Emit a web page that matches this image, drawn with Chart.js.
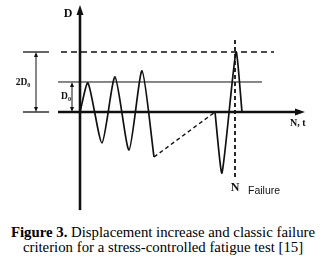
<!DOCTYPE html>
<html><head><meta charset="utf-8">
<script src="https://cdn.jsdelivr.net/npm/chart.js@4/dist/chart.umd.min.js"></script>
<style>
html,body{margin:0;padding:0;background:#fff;width:326px;height:266px;overflow:hidden;}
#wrap{position:relative;width:326px;height:215px;}
#cap{position:absolute;left:0;top:225px;width:326px;text-align:center;font:14.8px "Liberation Serif",serif;line-height:15px;color:#000;}
</style></head><body>
<div id="wrap"><canvas id="c" width="326" height="215"></canvas></div>
<div id="cap"><b>Figure 3.</b> Displacement increase and classic failure<br>criterion for a stress-controlled fatigue test [15]</div>
<script>
// ---- data (x: cycles N / time t, y: displacement in units of D0) ----
const D0 = 1;
const TWO_D0 = 2;
const cyclesX = [0, 0.8, 2.2, 3.5, 4.9, 6.2, 7.4];
const cyclesY = [0, 0.97, -1.03, 1.17, -1.27, 1.37, -1.5];
const skipX = [7.4, 13.5];
const skipY = [-1.5, 0];
const failX = [13.5, 14.2, 15.6, 16.2];
const failY = [0, -2.03, 2.0, 0];
const N_FAILURE = 15.5;
const failLineY = [-2.17, 2.47];
const d0LineX = [-2.2, 18.2];
const twoD0LineX = [-1.9, 19.4];
const xAxisX = [-2.2, 21.7];
const yAxisY = [-3.27, 3.3];
const bracket2X = [-5.7, -3.1];
const bracket2Mid = -4.4;
const bracket1Mid = -0.8;

const X_MIN = -8, X_MAX = 24.6, Y_MIN = -3.4333, Y_MAX = 3.7333;
const INK = '#111';

function seg(xs, ys, extra) {
  return Object.assign({
    data: xs.map((x, i) => ({x: x, y: ys[i]})),
    showLine: true, pointRadius: 0, borderColor: INK, borderWidth: 1.6,
    fill: false, tension: 0
  }, extra || {});
}

const datasets = [
  seg(d0LineX, [D0, D0], {borderWidth: 1}),
  seg(twoD0LineX, [TWO_D0, TWO_D0], {borderWidth: 1.5, borderDash: [6, 4]}),
  seg(bracket2X, [TWO_D0, TWO_D0], {borderWidth: 1.3}),
  seg(bracket2X, [0, 0], {borderWidth: 1.3}),
  seg([bracket2Mid, bracket2Mid], [0.12, TWO_D0 - 0.12], {borderWidth: 1}),
  seg([bracket1Mid, bracket1Mid], [0.12, D0 - 0.12], {borderWidth: 1}),
  seg([N_FAILURE, N_FAILURE], failLineY, {borderWidth: 1.8, borderDash: [4, 3]}),
  seg(xAxisX, [0, 0], {borderWidth: 2.6}),
  seg([0, 0], yAxisY, {borderWidth: 2.6}),
  seg(cyclesX, cyclesY, {borderWidth: 1.7, tension: 0.22}),
  seg(skipX, skipY, {borderWidth: 1.4, borderDash: [4, 3]}),
  seg(failX, failY, {borderWidth: 1.7, tension: 0.18})
];

function arrow(ctx, x, y, ang, len, wid) {
  ctx.save();
  ctx.translate(x, y); ctx.rotate(ang);
  ctx.beginPath();
  ctx.moveTo(0, 0); ctx.lineTo(-len, -wid / 2); ctx.lineTo(-len, wid / 2);
  ctx.closePath(); ctx.fillStyle = INK; ctx.fill();
  ctx.restore();
}

function subText(ctx, main, sub, x, y, size, align) {
  ctx.font = 'bold ' + size + 'px "Liberation Serif", serif';
  const w1 = ctx.measureText(main).width;
  ctx.font = 'bold ' + (size * 0.65) + 'px "Liberation Serif", serif';
  const w2 = ctx.measureText(sub).width;
  let x0 = align === 'center' ? x - (w1 + w2) / 2 : x;
  ctx.textBaseline = 'middle'; ctx.textAlign = 'left';
  ctx.font = 'bold ' + size + 'px "Liberation Serif", serif';
  ctx.fillText(main, x0, y);
  ctx.font = 'bold ' + (size * 0.65) + 'px "Liberation Serif", serif';
  ctx.fillText(sub, x0 + w1, y + size * 0.25);
}

const decor = {
  id: 'decor',
  afterDatasetsDraw(chart) {
    const ctx = chart.ctx, sx = chart.scales.x, sy = chart.scales.y;
    const px = v => sx.getPixelForValue(v), py = v => sy.getPixelForValue(v);
    ctx.save();
    ctx.fillStyle = INK;
    // axis arrows
    arrow(ctx, px(0), py(yAxisY[1]) - 8, -Math.PI / 2, 10, 7);
    arrow(ctx, px(xAxisX[1]) + 8, py(0), 0, 10, 7);
    // bracket arrows
    arrow(ctx, px(bracket2Mid), py(TWO_D0), -Math.PI / 2, 5, 4);
    arrow(ctx, px(bracket2Mid), py(0), Math.PI / 2, 5, 4);
    arrow(ctx, px(bracket1Mid), py(D0), -Math.PI / 2, 5, 4);
    arrow(ctx, px(bracket1Mid), py(0), Math.PI / 2, 5, 4);
    // labels
    ctx.textBaseline = 'middle'; ctx.textAlign = 'center';
    ctx.font = 'bold 12px "Liberation Serif", serif';
    ctx.fillText('D', px(0) - 12, py(yAxisY[1]) + 1);
    subText(ctx, '2D', '0', px(bracket2Mid) - 13, py(TWO_D0 / 2) + 1, 9.5, 'center');
    subText(ctx, 'D', '0', px(bracket1Mid) - 6, py(D0 / 2), 9.5, 'center');
    ctx.font = 'bold 10px "Liberation Serif", serif';
    ctx.textAlign = 'left';
    ctx.fillText('N, t', px(xAxisX[1]) - 7, py(0) + 11);
    ctx.textAlign = 'center';
    ctx.font = 'bold 12px "Liberation Serif", serif';
    ctx.fillText('N', px(N_FAILURE), py(failLineY[0]) + 11);
    ctx.textAlign = 'left';
    ctx.font = '10.5px "Liberation Sans", sans-serif';
    ctx.fillText('Failure', px(N_FAILURE) + 13, py(failLineY[0]) + 14);
    ctx.restore();
  }
};

new Chart(document.getElementById('c'), {
  type: 'scatter',
  data: {datasets: datasets},
  options: {
    responsive: false, animation: false,
    layout: {padding: 0},
    plugins: {legend: {display: false}, tooltip: {enabled: false}},
    scales: {
      x: {type: 'linear', display: false, min: X_MIN, max: X_MAX},
      y: {type: 'linear', display: false, min: Y_MIN, max: Y_MAX}
    }
  },
  plugins: [decor]
});
</script>
</body></html>
